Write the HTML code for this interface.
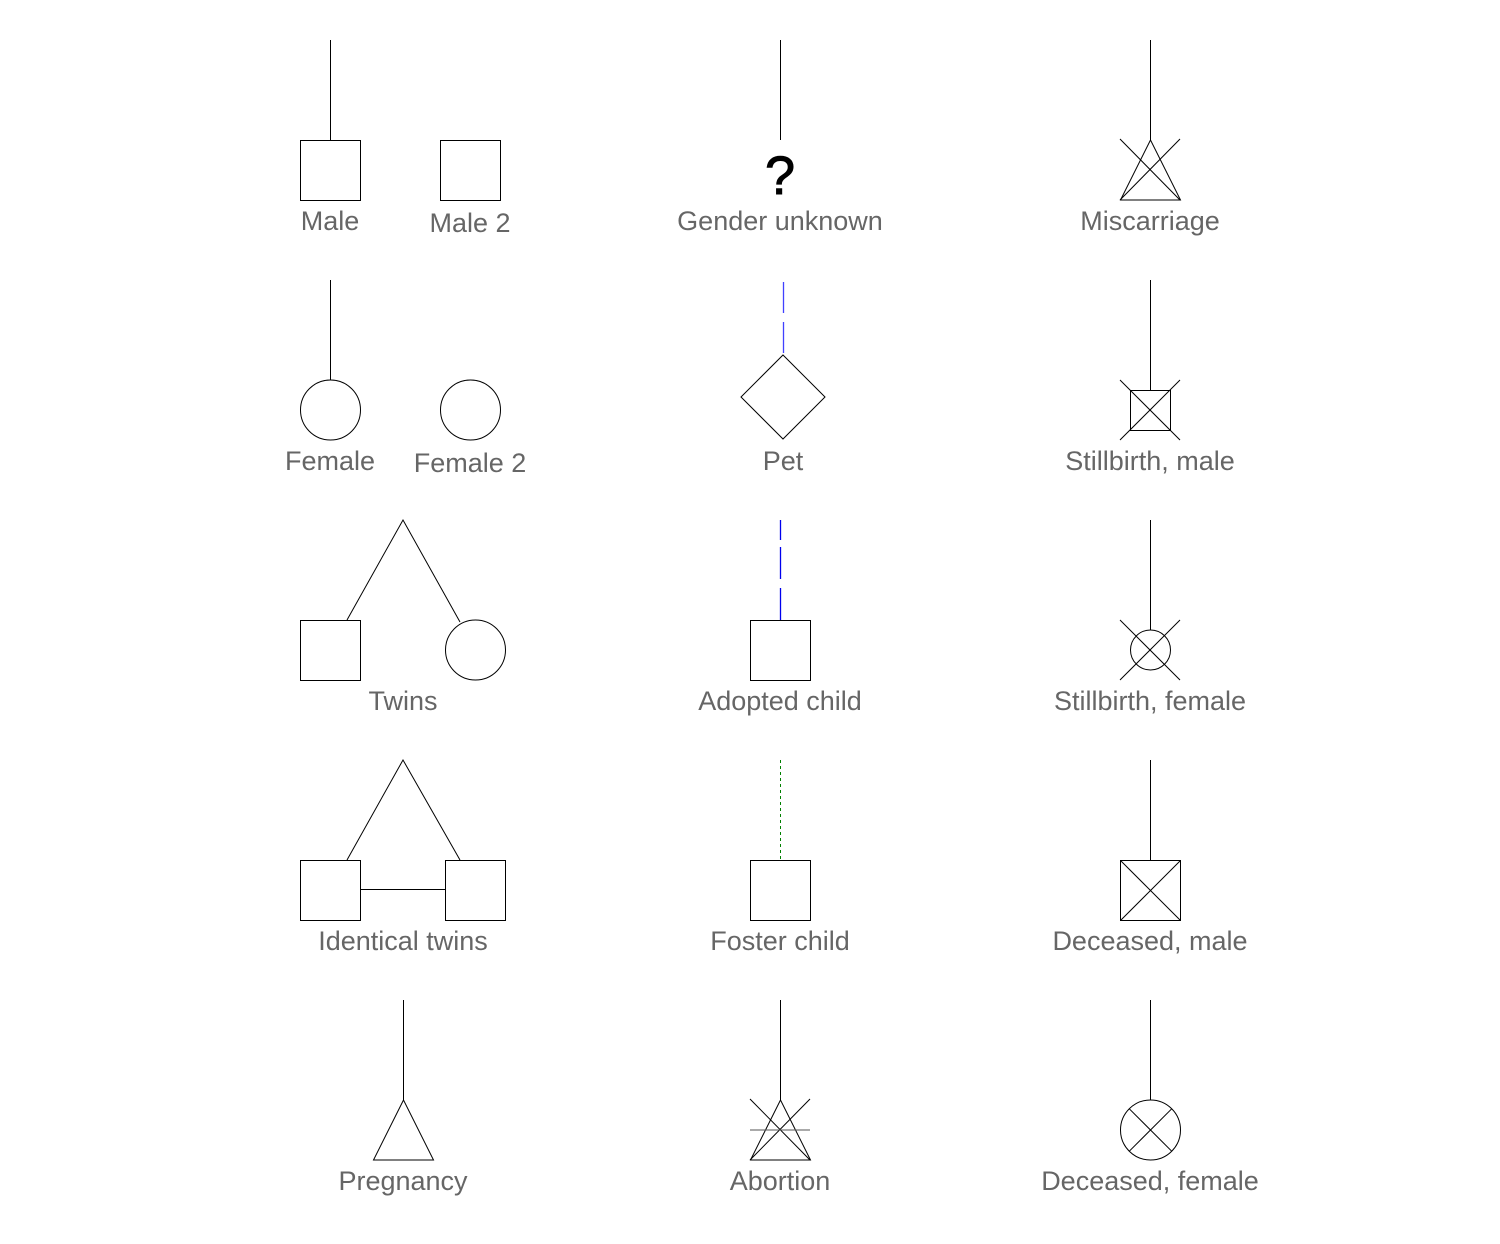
<!DOCTYPE html>
<html><head><style>
html,body{margin:0;padding:0;background:#fff}
text{font-family:"Liberation Sans",sans-serif;font-size:27px;fill:#666;text-anchor:middle}
</style></head><body>
<svg width="1500" height="1239" xmlns="http://www.w3.org/2000/svg">
<g stroke="#000" stroke-width="1" fill="none">
<line x1="330.5" y1="40" x2="330.5" y2="140"/>
<rect x="300.5" y="140.5" width="60" height="60"/>
<rect x="440.5" y="140.5" width="60" height="60"/>
<line x1="330.5" y1="280" x2="330.5" y2="380"/>
<circle cx="330.5" cy="410" r="30"/>
<circle cx="470.5" cy="410" r="30"/>
<polyline points="347,620 403,520 460,622"/>
<rect x="300.5" y="620.5" width="60" height="60"/>
<circle cx="475.5" cy="650" r="30"/>
<polyline points="347,860 403,760 460,860"/>
<rect x="300.5" y="860.5" width="60" height="60"/>
<rect x="445.5" y="860.5" width="60" height="60"/>
<line x1="360" y1="889.5" x2="445" y2="889.5"/>
<line x1="403.5" y1="1000" x2="403.5" y2="1100"/>
<polygon points="403.5,1100 373.5,1160 433.5,1160"/>
<line x1="780.5" y1="40" x2="780.5" y2="140"/>
<polygon points="783,355 825,397 783,439 741,397"/>
<rect x="750.5" y="620.5" width="60" height="60"/>
<rect x="750.5" y="860.5" width="60" height="60"/>
<line x1="780.5" y1="1000" x2="780.5" y2="1100"/>
<polygon points="780.5,1100 750.5,1160 810.5,1160"/>
<line x1="750" y1="1099" x2="810" y2="1160"/>
<line x1="810" y1="1099" x2="750" y2="1160"/>
<line x1="750" y1="1130" x2="810" y2="1130" stroke="#555"/>
<line x1="1150.5" y1="40" x2="1150.5" y2="140"/>
<polygon points="1150.5,140 1120.5,200 1180.5,200"/>
<line x1="1120" y1="139" x2="1180" y2="200"/>
<line x1="1180" y1="139" x2="1120" y2="200"/>
<line x1="1150.5" y1="280" x2="1150.5" y2="390"/>
<rect x="1130.5" y="390.5" width="40" height="40"/>
<line x1="1120" y1="380" x2="1180" y2="440"/>
<line x1="1180" y1="380" x2="1120" y2="440"/>
<line x1="1150.5" y1="520" x2="1150.5" y2="630"/>
<circle cx="1150.5" cy="650" r="20"/>
<line x1="1120" y1="620" x2="1180" y2="680"/>
<line x1="1180" y1="620" x2="1120" y2="680"/>
<line x1="1150.5" y1="760" x2="1150.5" y2="860"/>
<rect x="1120.5" y="860.5" width="60" height="60"/>
<line x1="1120.5" y1="860.5" x2="1180.5" y2="920.5"/>
<line x1="1180.5" y1="860.5" x2="1120.5" y2="920.5"/>
<line x1="1150.5" y1="1000" x2="1150.5" y2="1100"/>
<circle cx="1150.5" cy="1130" r="30"/>
<line x1="1129.3" y1="1108.8" x2="1171.7" y2="1151.2"/>
<line x1="1171.7" y1="1108.8" x2="1129.3" y2="1151.2"/>
</g>
<line x1="783.5" y1="282" x2="783.5" y2="355" stroke="#4040ff" stroke-width="1.3" stroke-dasharray="31,9"/>
<line x1="780.5" y1="520" x2="780.5" y2="620" stroke="#0000ee" stroke-width="1.3" stroke-dasharray="20,7,32,9,32"/>
<line x1="780.5" y1="760" x2="780.5" y2="860" stroke="#008000" stroke-width="1" stroke-dasharray="3,3"/>
<text x="780" y="194" style="font-size:54px;fill:#000;stroke:#000;stroke-width:1">?</text>
<text x="330" y="230">Male</text>
<text x="470" y="232">Male 2</text>
<text x="780" y="230">Gender unknown</text>
<text x="1150" y="230">Miscarriage</text>
<text x="330" y="470">Female</text>
<text x="470" y="472">Female 2</text>
<text x="783" y="470">Pet</text>
<text x="1150" y="470">Stillbirth, male</text>
<text x="403" y="710">Twins</text>
<text x="780" y="710">Adopted child</text>
<text x="1150" y="710">Stillbirth, female</text>
<text x="403" y="950">Identical twins</text>
<text x="780" y="950">Foster child</text>
<text x="1150" y="950">Deceased, male</text>
<text x="403" y="1190">Pregnancy</text>
<text x="780" y="1190">Abortion</text>
<text x="1150" y="1190">Deceased, female</text>
</svg>
</body></html>
